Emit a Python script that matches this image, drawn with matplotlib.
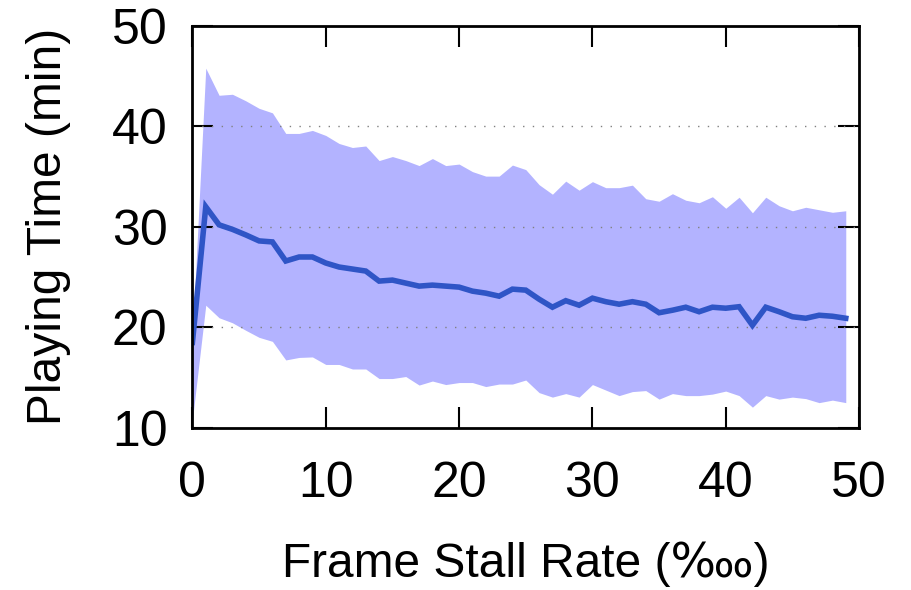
import matplotlib
matplotlib.use("Agg")
import matplotlib.pyplot as plt
import numpy as np

plt.rcParams['font.family'] = ['Liberation Sans', 'DejaVu Sans']

stall_rate = list(range(50))
mean_time = [18.5, 32.0, 30.2, 29.75, 29.2, 28.6, 28.5, 26.6, 27.0, 27.0,
             26.4, 26.0, 25.8, 25.6, 24.6, 24.7, 24.4, 24.1, 24.2, 24.1,
             24.0, 23.6, 23.4, 23.1, 23.8, 23.7, 22.8, 22.0, 22.65, 22.2,
             22.9, 22.55, 22.3, 22.55, 22.3, 21.45, 21.7, 22.0, 21.55, 22.0,
             21.9, 22.05, 20.2, 22.0, 21.55, 21.05, 20.9, 21.2, 21.1, 20.9]
upper_time = [19.0, 45.8, 43.1, 43.2, 42.55, 41.8, 41.35, 39.3, 39.3, 39.6,
              39.1, 38.3, 37.9, 38.05, 36.6, 37.0, 36.6, 36.1, 36.8, 36.1,
              36.25, 35.5, 35.05, 35.05, 36.15, 35.7, 34.2, 33.25, 34.55, 33.65,
              34.5, 33.9, 33.9, 34.15, 32.8, 32.55, 33.3, 32.65, 32.4, 33.0,
              31.85, 32.95, 31.4, 32.95, 32.1, 31.6, 31.95, 31.7, 31.45, 31.6]
lower_time = [10.8, 22.2, 20.95, 20.45, 19.7, 19.0, 18.6, 16.75, 17.0, 17.05,
              16.3, 16.3, 15.85, 15.85, 14.9, 14.9, 15.1, 14.25, 14.65, 14.3,
              14.5, 14.5, 14.1, 14.35, 14.35, 14.75, 13.5, 13.05, 13.4, 13.05,
              14.3, 13.75, 13.2, 13.6, 13.7, 12.85, 13.4, 13.2, 13.2, 13.35,
              13.65, 13.2, 12.05, 13.2, 12.85, 13.05, 12.9, 12.5, 12.75, 12.5]
x_ticks = [0, 10, 20, 30, 40, 50]
y_ticks = [10, 20, 30, 40, 50]

fig = plt.figure(figsize=(9.12, 5.9), dpi=100)
ax = fig.add_axes([0.211, 0.275, 0.731, 0.681])

ax.fill_between(stall_rate, lower_time, upper_time, color='#b3b3ff', linewidth=0, zorder=1)
for yv in [20, 30, 40]:
    ax.axhline(yv, color='#808080', linestyle=(0, (1, 6)), linewidth=1.0, zorder=2)
ax.plot(stall_rate, mean_time, color='#2f55c6', linewidth=4.0, zorder=3,
        solid_joinstyle='miter')

ax.set_xlim(0, 50)
ax.set_ylim(10, 50)
ax.set_xticks(x_ticks)
ax.set_yticks(y_ticks)
ax.tick_params(axis='both', direction='in', length=15, width=1.5,
               top=True, right=True, labelsize=36, color='black')
ax.tick_params(axis='x', pad=24)
ax.tick_params(axis='y', pad=18)
for s in ax.spines.values():
    s.set_linewidth(2)
    s.set_zorder(5)

ax.set_xlabel('Frame Stall Rate (‱)', fontsize=34.5, labelpad=25)
ax.set_ylabel('Playing Time (min)', fontsize=34.5, labelpad=29)

fig.savefig('out.png', dpi=100)
